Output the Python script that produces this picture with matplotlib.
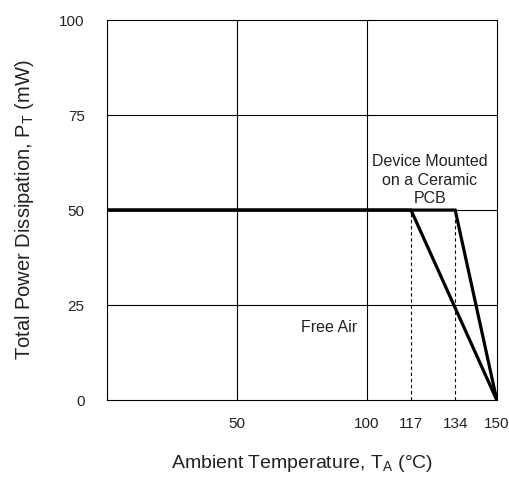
import numpy as np
import matplotlib as mpl
mpl.use('Agg')
import matplotlib.pyplot as plt

font = {'family': 'Liberation Sans', 'size': 11}
plt.rc('font', **font)
plt.rc('mathtext', fontset='custom', rm='Liberation Sans', it='Liberation Sans')

# derating curves (ambient temp in C, power in mW)
temp_air = [0, 117, 150]
pd_air = [50, 50, 0]
temp_pcb = [0, 134, 150]
pd_pcb = [50, 50, 0]
knees = [117, 134]
knee_pd = 50

xticks = [50, 100, 117, 134, 150]
yticks = [0, 25, 50, 75, 100]

fig = plt.figure(figsize=(5.09, 4.78), dpi=100)
ax = fig.add_axes([0.210, 0.163, 0.766, 0.795])

ax.set_xlim(0, 150)
ax.set_ylim(0, 100)
ax.set_xticks(xticks)
ax.set_yticks(yticks)
ax.tick_params(length=0, labelsize=11, labelcolor='#222222')
ax.tick_params(axis='x', pad=12)
ax.tick_params(axis='y', pad=16)

for g in [50, 100]:
    ax.axvline(g, color='black', lw=0.8)
for g in [25, 50, 75]:
    ax.axhline(g, color='black', lw=0.8)
for s in ax.spines.values():
    s.set_linewidth(0.8)

for k in knees:
    ax.plot([k, k], [0, knee_pd], '--', color='black', lw=0.8, dashes=(3, 2.5))

ax.plot(temp_air, pd_air, '-', color='black', lw=2.3, solid_joinstyle='miter')
ax.plot(temp_pcb, pd_pcb, '-', color='black', lw=2.3, solid_joinstyle='miter')

ax.text(124.3, 57.9, 'Device Mounted\non a Ceramic\nPCB', ha='center', va='center',
        fontsize=11.5, linespacing=1.3, color='#222222')
ax.text(85.4, 19, 'Free Air', ha='center', va='center', fontsize=11.5, color='#222222')

ax.set_xlabel(r'Ambient Temperature, T$_{\rm A}$ (°C)', fontsize=14, labelpad=16,
              color='#222222')
ax.set_ylabel(r'Total Power Dissipation, P$_{\rm T}$ (mW)', fontsize=14.5, labelpad=17,
              color='#222222')

plt.savefig('out.png', dpi=100)
